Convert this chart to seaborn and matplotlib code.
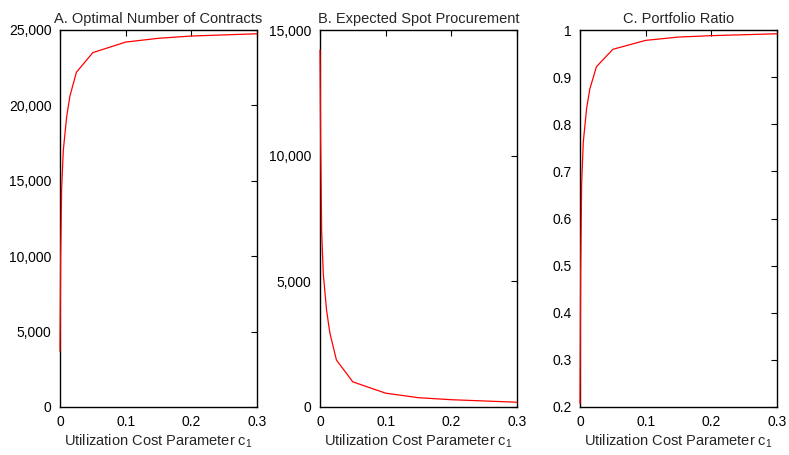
import matplotlib
matplotlib.use("Agg")
import matplotlib.pyplot as plt
import matplotlib.ticker as mticker
import seaborn as sns
import pandas as pd

# Utilization cost parameter c1
c1 = [0, 0.001, 0.0025, 0.005, 0.01, 0.015, 0.025, 0.05, 0.1, 0.15, 0.2, 0.3]
# A. Optimal number of contracts
contracts = [3700, 10000, 14500, 17000, 19200, 20600, 22200, 23500, 24200, 24450, 24600, 24750]
# B. Expected spot procurement
spot = [14200, 10500, 7000, 5300, 3850, 2950, 1870, 1000, 550, 370, 290, 190]
# C. Portfolio ratio
ratio = [0.207, 0.488, 0.674, 0.762, 0.833, 0.875, 0.922, 0.959, 0.978, 0.985, 0.988, 0.992]

titles = ["A. Optimal Number of Contracts", "B. Expected Spot Procurement", "C. Portfolio Ratio"]
xticks = [0, 0.1, 0.2, 0.3]
yticks_a = [0, 5000, 10000, 15000, 20000, 25000]
yticks_b = [0, 5000, 10000, 15000]
yticks_c = [0.2, 0.3, 0.4, 0.5, 0.6, 0.7, 0.8, 0.9, 1.0]

sns.set_style("white")
plt.rcParams['font.family'] = ['Liberation Sans', 'DejaVu Sans']
plt.rcParams['mathtext.fontset'] = 'custom'
plt.rcParams['mathtext.rm'] = 'Liberation Sans'
plt.rcParams['mathtext.it'] = 'Liberation Sans'

df = pd.DataFrame({"c1": c1, "contracts": contracts, "spot": spot, "ratio": ratio})

fig = plt.figure(figsize=(7.89, 4.55), dpi=100)
lefts = [60 / 789, 320 / 789, 580 / 789]
w = 197 / 789
bottom = 1 - 407 / 455
h = 377 / 455
cols = ["contracts", "spot", "ratio"]
ylims = [(0, 25000), (0, 15000), (0.2, 1.0)]
yticks_all = [yticks_a, yticks_b, yticks_c]

comma = mticker.FuncFormatter(lambda v, p: f"{int(round(v)):,}")
plain = mticker.FuncFormatter(lambda v, p: f"{v:g}")

for i in range(3):
    ax = fig.add_axes([lefts[i], bottom, w, h])
    sns.lineplot(data=df, x="c1", y=cols[i], ax=ax, color="red", linewidth=0.9)
    for ln in ax.lines:
        ln.set_zorder(3)
        ln.set_clip_on(False)
    ax.set_xlim(0, 0.3)
    ax.set_ylim(*ylims[i])
    ax.set_xticks(xticks)
    ax.set_yticks(yticks_all[i])
    ax.xaxis.set_major_formatter(plain)
    ax.yaxis.set_major_formatter(comma if i < 2 else plain)
    ax.tick_params(direction="in", top=True, right=True, length=4, width=0.8,
                   labelsize=10, pad=6, colors="black")
    for s in ax.spines.values():
        s.set_visible(True)
        s.set_color("black")
        s.set_linewidth(1.0)
    ax.set_title(titles[i], fontsize=10.5, pad=5)
    ax.set_xlabel(r"Utilization Cost Parameter c$_{1}$", fontsize=10.5, labelpad=2)
    ax.set_ylabel("")

fig.savefig("out.png", dpi=100)
